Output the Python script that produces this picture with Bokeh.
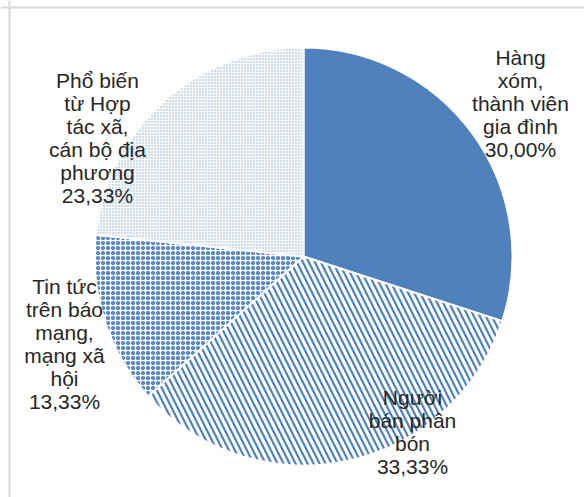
import math
from bokeh.plotting import figure
from bokeh.models import ColumnDataSource, Range1d, Span
from bokeh.core.properties import value
from bokeh.embed import file_html
from bokeh.resources import INLINE

# ---- data ----
categories = [
    "Hàng xóm, thành viên gia đình",
    "Người bán phân bón",
    "Tin tức trên báo mạng, mạng xã hội",
    "Phổ biến từ Hợp tác xã, cán bộ địa phương",
]
percents = [30.00, 33.33, 13.33, 23.33]
label_texts = [
    "Hàng\nxóm,\nthành viên\ngia đình\n30,00%",
    "Người\nbán phân\nbón\n33,33%",
    "Tin tức\ntrên báo\nmạng,\nmạng xã\nhội\n13,33%",
    "Phổ biến\ntừ Hợp\ntác xã,\ncán bộ địa\nphương\n23,33%",
]

# ---- layout / styles ----
W, H = 584, 497
cx, cy, R = 303, 241, 209
label_x = [520, 412, 64, 97]
label_y = [394, 66, 154, 359.5]
blue = "#4f81bd"
hatches = [" ", "\\", "o", "."]
hatch_scales = [12, 12, 5, 3]
hatch_weights = [1, 2.2, 1.7, 1]
hatch_colors = [blue, blue, "#4a7fc4", "#7fa3d4"]
fills = [blue, "white", "white", "white"]

total = sum(percents)
starts, ends = [], []
acc = 0.0
for v in percents:
    starts.append(math.pi / 2 - 2 * math.pi * acc / total)
    acc += v
    ends.append(math.pi / 2 - 2 * math.pi * acc / total)

p = figure(width=W, height=H, output_backend="svg", toolbar_location=None,
           x_range=Range1d(0, W), y_range=Range1d(0, H), min_border=0)
p.axis.visible = False
p.grid.visible = False
p.outline_line_color = None
p.background_fill_color = "white"
p.border_fill_color = "white"

for i in range(len(percents)):
    p.wedge(x=cx, y=cy, radius=R, start_angle=starts[i], end_angle=ends[i],
            direction="clock", fill_color=fills[i], line_color="white", line_width=2,
            hatch_pattern=hatches[i], hatch_scale=hatch_scales[i],
            hatch_weight=hatch_weights[i], hatch_color=hatch_colors[i])

src = ColumnDataSource(dict(x=label_x, y=label_y, text=label_texts))
p.text(x="x", y="y", text="text", source=src, text_align="center",
       text_baseline="middle", text_font=value("Liberation Sans"),
       text_font_size="21px", text_line_height=1.0, text_color="#262626")

p.add_layout(Span(location=9, dimension="height", line_color="#d9d9d9", line_width=2))
p.add_layout(Span(location=490, dimension="width", line_color="#d9d9d9", line_width=2))

open("out.html", "w").write(file_html(p, INLINE))
